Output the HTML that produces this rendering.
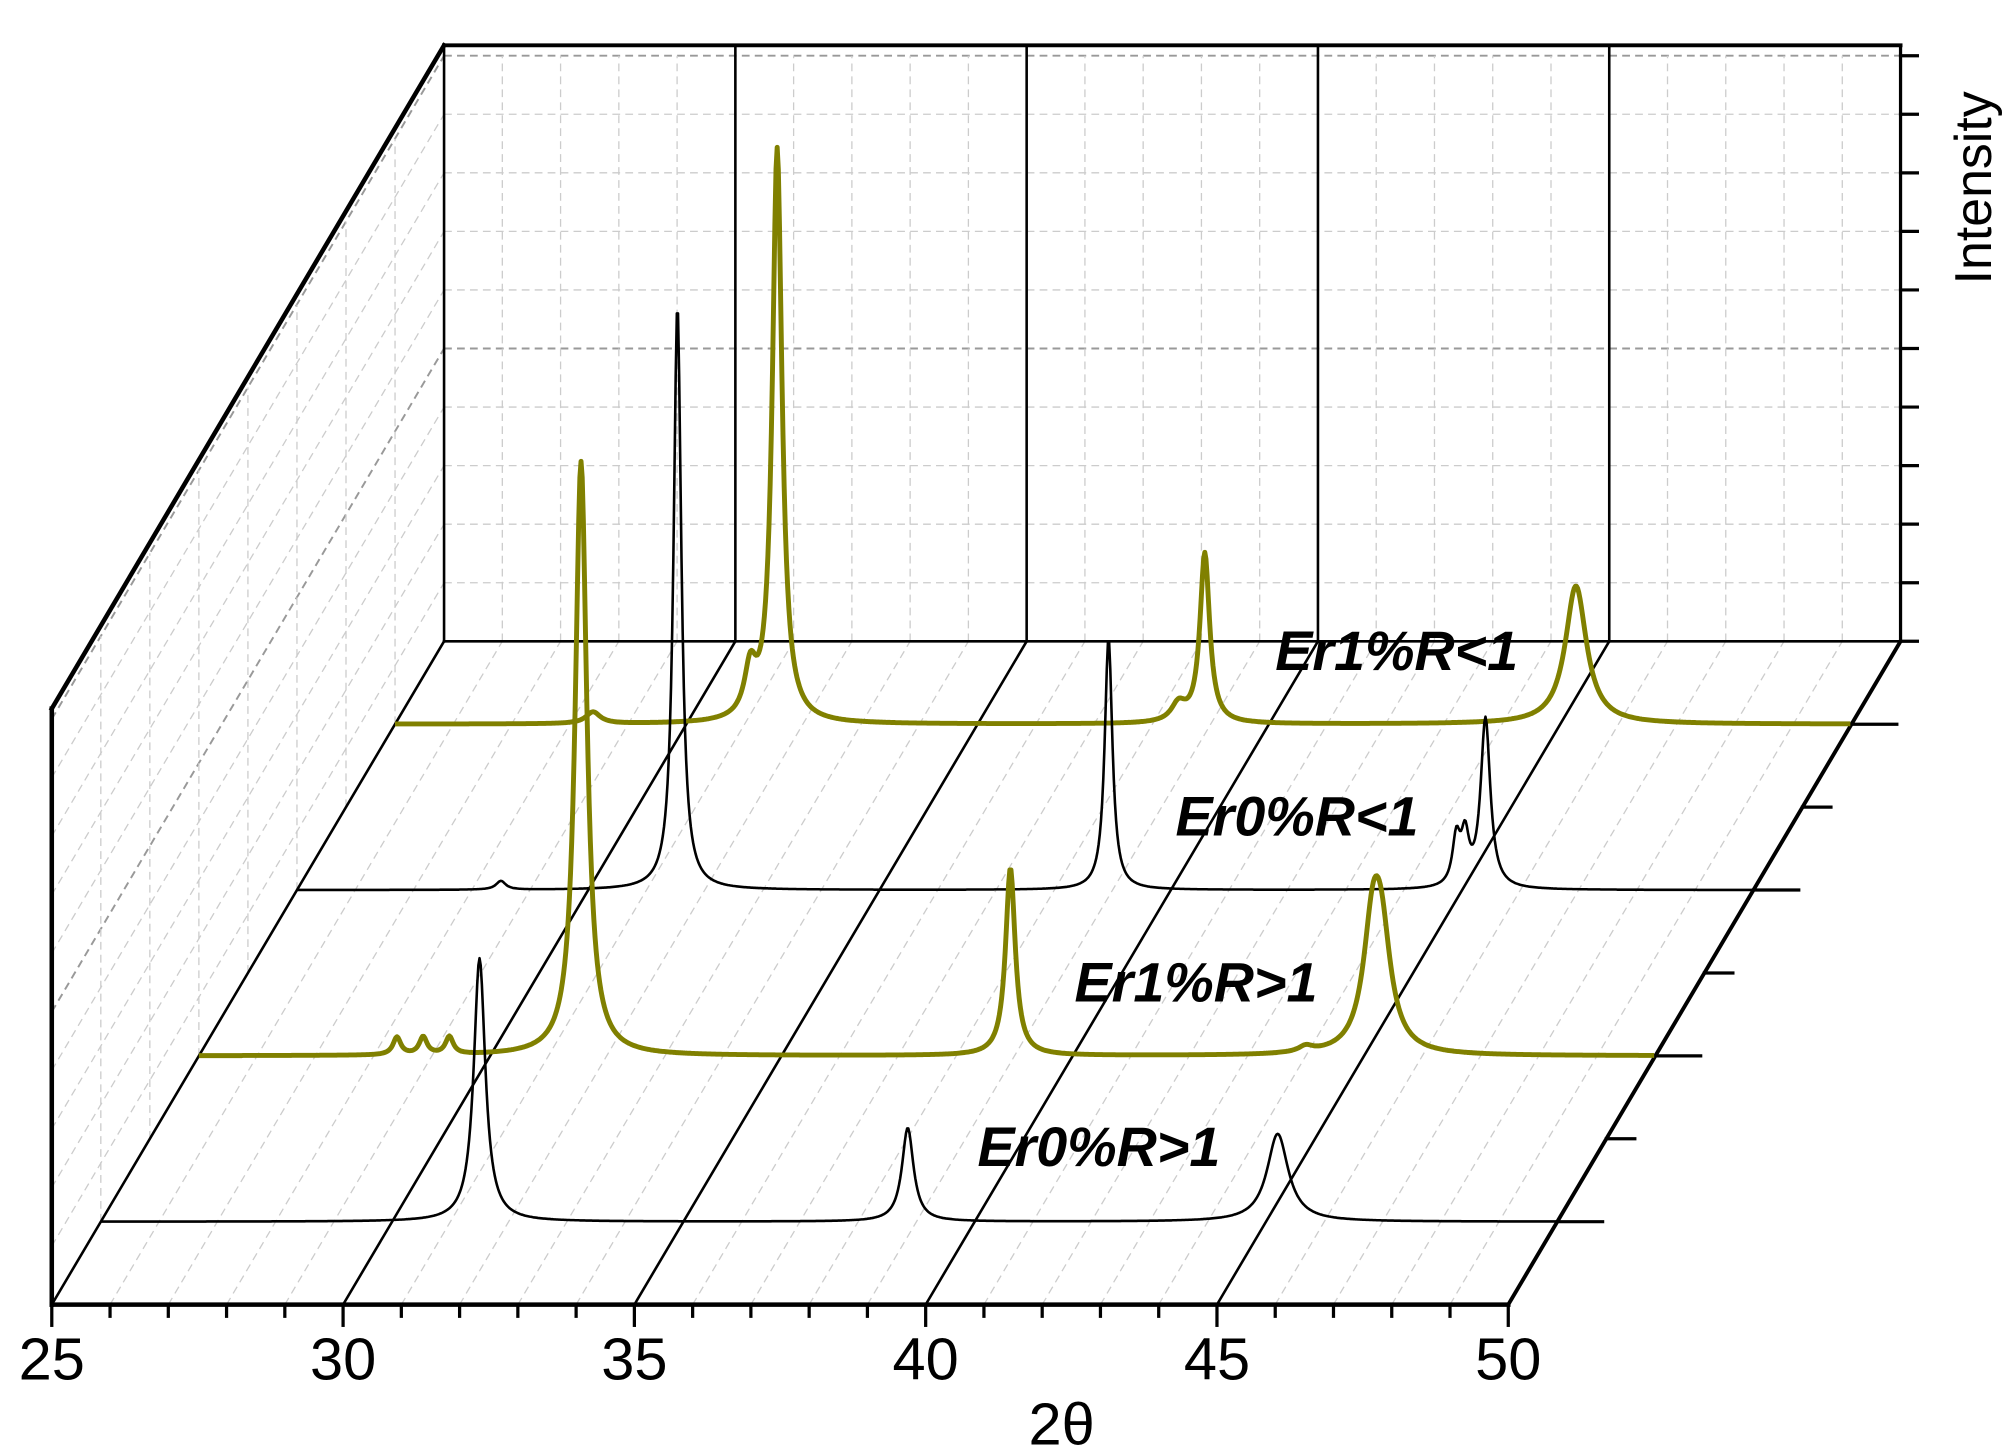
<!DOCTYPE html>
<html><head><meta charset="utf-8"><style>
html,body{margin:0;padding:0;background:#fff;}
svg{display:block;}
text{font-family:"Liberation Sans",sans-serif;}
</style></head><body>
<svg id="chart" width="2008" height="1451" viewBox="0 0 1551 1120" preserveAspectRatio="none" xmlns="http://www.w3.org/2000/svg">
<g id="grid"></g>
<g id="frame"></g>
<g id="series"></g>
<g id="labels"></g>
</svg>
<script>
// data
const seriesNames = ["Er0%R>1","Er1%R>1","Er0%R<1","Er1%R<1"];
const seriesDepth = [0.125,0.375,0.625,0.875];
const seriesColor = ["#000","#808000","#000","#808000"];
const peakPos0 = [31.5,38.85,45.2];
const peakH0   = [4.5,1.6,1.5];
const peakW0   = [0.12,0.12,0.22];
const peakPos1 = [28.4,28.85,29.3,31.56,38.93,45.15,45.3,44.0];
const peakH1   = [0.3,0.3,0.3,10.15,3.2,1.9,1.6,0.1];
const peakW1   = [0.08,0.08,0.08,0.12,0.1,0.2,0.2,0.15];
const peakPos2 = [28.5,31.53,38.93,44.9,45.05,45.4];
const peakH2   = [0.15,10.0,4.3,0.8,0.8,2.9];
const peakW2   = [0.1,0.08,0.08,0.08,0.08,0.1];
const peakPos3 = [28.4,31.1,31.56,38.45,38.9,45.27];
const peakH3   = [0.2,0.8,9.8,0.3,2.9,2.36];
const peakW3   = [0.15,0.12,0.1,0.15,0.1,0.22];
const xTicks = [25,30,35,40,45,50];
const labelPos = [[755,900],[830,773],[908,645],[985,517]];

const NS="http://www.w3.org/2000/svg";
const X0=40, FY=1007, PX=45, DX=303, DY=512, IU=45.2;
function sx(tt,t){return X0+(tt-25)*PX+DX*t;}
function sy(I,t){return FY-DY*t-I*IU;}
function mk(p,tag,a){const e=document.createElementNS(NS,tag);for(const k in a)e.setAttribute(k,a[k]);p.appendChild(e);return e;}
const grid=document.getElementById('grid'),frame=document.getElementById('frame'),ser=document.getElementById('series'),lab=document.getElementById('labels');

for(let i=1;i<=10;i++){const y=sy(i,1);
 const l=mk(grid,'line',{x1:sx(25,1),y1:y,x2:sx(50,1),y2:y,stroke:(i==5||i==10)?'#999':'#ccc','stroke-width':(i==5||i==10)?1.5:1,'stroke-dasharray':'6,4'});
 
 const w=mk(grid,'line',{x1:sx(25,0),y1:sy(i,0),x2:sx(25,1),y2:y,stroke:(i==5||i==10)?'#999':'#ccc','stroke-width':(i==5||i==10)?1.5:1,'stroke-dasharray':'6,4'});
 
}
for(let d=26;d<50;d++){ if(d%5==0) continue;
 const l=mk(grid,'line',{x1:sx(d,1),y1:sy(0,1),x2:sx(d,1),y2:sy(10,1),stroke:'#ccc','stroke-width':1,'stroke-dasharray':'6,4'});
 
 const f=mk(grid,'line',{x1:sx(d,0),y1:FY,x2:sx(d,1),y2:sy(0,1),stroke:'#ccc','stroke-width':1,'stroke-dasharray':'6,4'});
 
}
for(let k=1;k<8;k++){const t=k/8;
 const l=mk(grid,'line',{x1:sx(25,t),y1:sy(0,t),x2:sx(25,t),y2:sy(10,t),stroke:'#ccc','stroke-width':1,'stroke-dasharray':'6,4'});
 
}
function fl(x1,y1,x2,y2,w,name){const l=mk(frame,'line',{x1,y1,x2,y2,stroke:'#000','stroke-width':w,'stroke-linecap':'square'});}
const topF=sy(10,0)-8, topB=sy(10,1)-8;
fl(X0,FY,X0,topF,3.5,'left-wall-front-edge');
fl(X0,topF,sx(25,1),topB,3.5,'left-wall-top-edge');
fl(sx(25,1),topB,sx(50,1),topB,3,'back-wall-top-edge');
fl(sx(50,1),topB,sx(50,1),sy(0,1),2.5,'back-wall-right-edge');
fl(sx(25,1),topB,sx(25,1),sy(0,1),2,'back-wall-left-edge');
fl(sx(25,1),sy(0,1),sx(50,1),sy(0,1),2,'back-floor-edge');
fl(X0,FY,sx(25,1),sy(0,1),2,'left-floor-edge');
fl(X0,FY,sx(50,0),FY,3.5,'x-axis');
fl(sx(50,0),FY,sx(50,1),sy(0,1),3,'right-floor-edge');
for(const v of [30,35,40,45]){fl(sx(v,1),sy(0,1),sx(v,1),topB,2,'back-wall-major-line');fl(sx(v,0),FY,sx(v,1),sy(0,1),2,'floor-major-line');}
for(let d=25;d<=50;d++){fl(sx(d,0),FY,sx(d,0),FY+(d%5==0?16:9),2.5,'x-tick');}
for(let i=0;i<=10;i++){fl(sx(50,1),sy(i,1),sx(50,1)+13,sy(i,1),2.5,'intensity-tick');}
for(let k=1;k<8;k++){const t=k/8;fl(sx(50,t),sy(0,t),sx(50,t)+(k%2?35:22),sy(0,t),2.5,'depth-tick');}
xTicks.forEach(v=>{const t=mk(lab,'text',{x:sx(v,0),y:FY+58,'font-size':46,'text-anchor':'middle'});t.textContent=v;});
let t=mk(lab,'text',{x:820,y:1115,'font-size':46,'text-anchor':'middle'});t.textContent='2θ';
t=mk(lab,'text',{x:0,y:0,'font-size':40,'text-anchor':'middle',transform:'translate(1538,145) rotate(-90)'});t.textContent='Intensity';

const peaks=[[peakPos0,peakH0,peakW0],[peakPos1,peakH1,peakW1],[peakPos2,peakH2,peakW2],[peakPos3,peakH3,peakW3]];
for(let s=3;s>=0;s--){
 const [P,H,W]=peaks[s],dep=seriesDepth[s];let d='';
 for(let x=25.0;x<=50;x+=0.02){let I=0;for(let k=0;k<P.length;k++){const u=(x-P[k])/W[k];I+=H[k]/(1+u*u);}
  d+=(d?'L':'M')+sx(x,dep).toFixed(1)+','+sy(I,dep).toFixed(1);}
 const p=mk(ser,'path',{d,fill:'none',stroke:seriesColor[s],'stroke-width':seriesColor[s]=='#000'?2:3.8,'stroke-linejoin':'round'});
 
 const tx=mk(lab,'text',{x:labelPos[s][0],y:labelPos[s][1],'font-size':43,'font-weight':'bold','font-style':'italic'});tx.textContent=seriesNames[s];
 
}
</script>
</body></html>
